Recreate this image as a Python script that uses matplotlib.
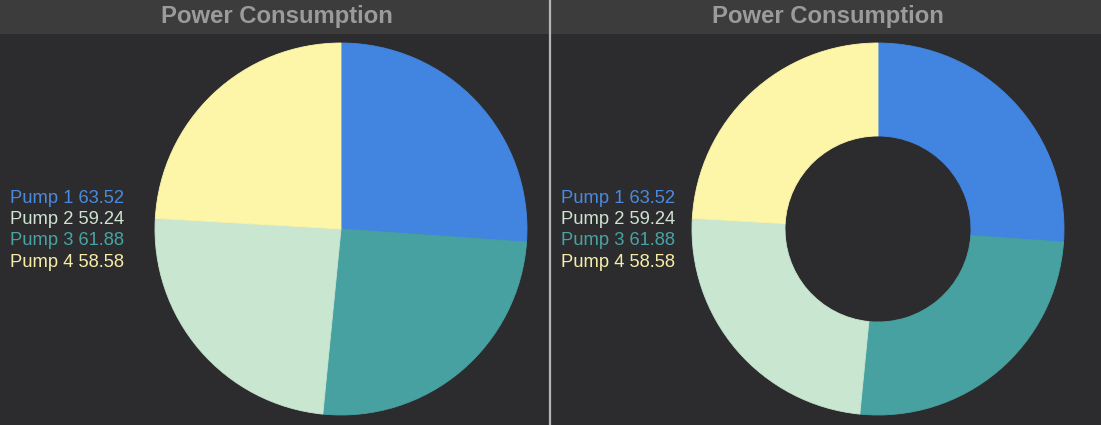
import matplotlib.pyplot as plt
from matplotlib.patches import Rectangle
from matplotlib.lines import Line2D

# data
pumps = ["Pump 1", "Pump 2", "Pump 3", "Pump 4"]
power = [63.52, 59.24, 61.88, 58.58]
colors = ["#4285e0", "#c8e6d0", "#48a1a1", "#fdf5a8"]
label_colors = ["#4a8ae0", "#cfe3d3", "#4aa3a3", "#f7eda8"]
slice_order = [0, 2, 1, 3]  # clockwise from 12 o'clock as in the dashboard

W, H = 1101, 425
bg = "#2c2c2e"
fig = plt.figure(figsize=(W / 100, H / 100), dpi=100, facecolor=bg)

# header bars + divider
for x0, x1 in [(0, 549), (551, W)]:
    fig.add_artist(Rectangle((x0 / W, (H - 34) / H), (x1 - x0) / W, 34 / H,
                             transform=fig.transFigure, facecolor="#3c3c3c",
                             edgecolor="none"))
    fig.text(((x0 + x1) / 2 + 2) / W, (H - 17) / H, "Power Consumption",
             ha="center", va="center", color="#9b9b9b", fontsize=17.2,
             fontweight="bold", family="Liberation Sans")
fig.add_artist(Line2D([550 / W, 550 / W], [0, 1], transform=fig.transFigure,
                      color="#b5b5b5", lw=1.6))

R = 186
cy = H - 229
for cx, lx, hole in [(341, 10, None), (878, 561, 0.5)]:
    ax = fig.add_axes([(cx - R) / W, (cy - R) / H, 2 * R / W, 2 * R / H])
    ax.set_facecolor("none")
    vals = [power[i] for i in slice_order]
    cols = [colors[i] for i in slice_order]
    wp = {"linewidth": 0.6}
    if hole:
        wp["width"] = 1 - hole
    wedges, _ = ax.pie(vals, colors=cols, startangle=90, counterclock=False,
                       radius=1, wedgeprops=wp)
    for w, c in zip(wedges, cols):
        w.set_edgecolor(c)
    ax.set_xlim(-1, 1)
    ax.set_ylim(-1, 1)
    ax.set_aspect("equal")
    ax.axis("off")

    # legend text
    for k, (name, v) in enumerate(zip(pumps, power)):
        fig.text(lx / W, (H - 198 - k * 21.4) / H, f"{name} {v:.2f}",
                 ha="left", va="center", color=label_colors[k], fontsize=13.2,
                 family="Liberation Sans")

fig.savefig("out.png", dpi=100, facecolor=bg)
